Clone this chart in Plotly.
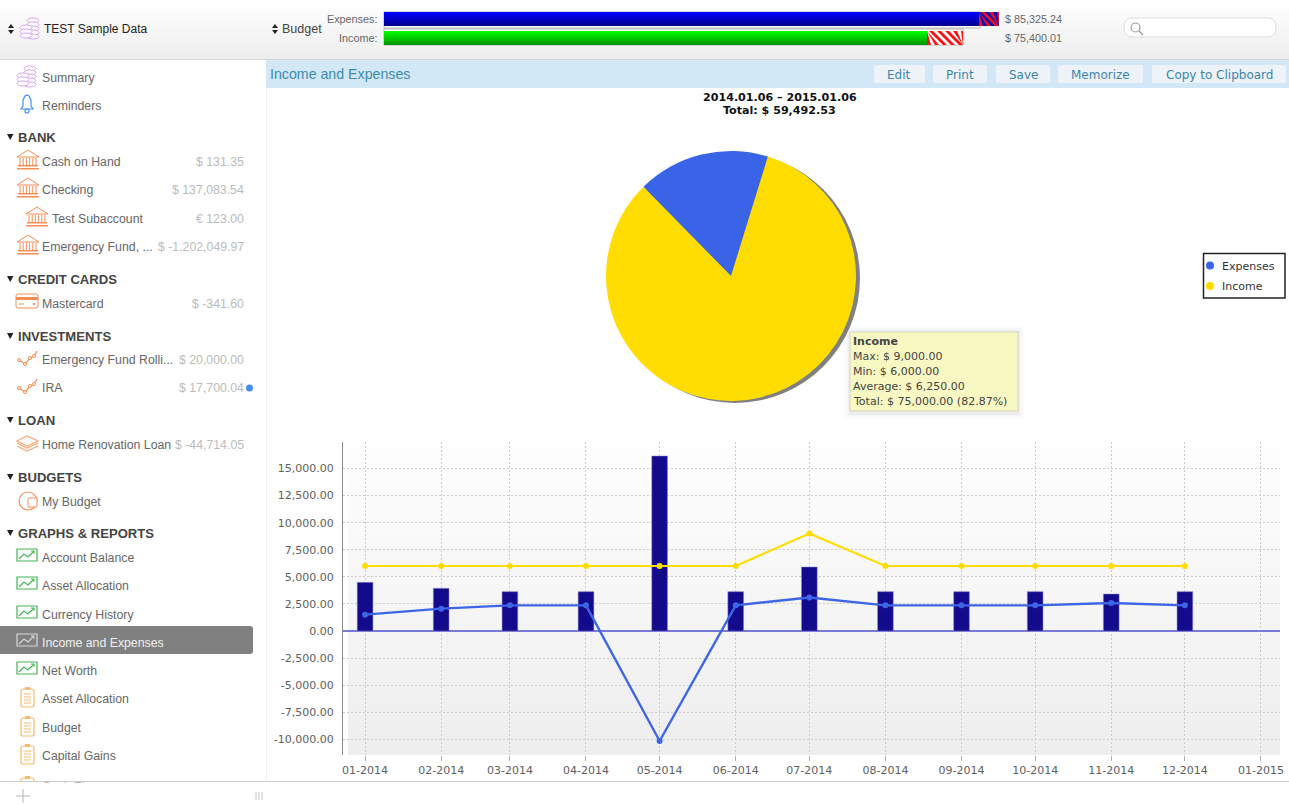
import plotly.express as px

WIDTH = 1289
HEIGHT = 805
SANS = "Liberation Sans"
GRANDE = "DejaVu Sans"

shapes = []
notes = []


def X(v):
    return v / WIDTH


def Y(v):
    return 1 - v / HEIGHT


def box(x0, y0, x1, y1, fill, line=None, width=0, layer="above"):
    shapes.append(dict(type="rect", xref="paper", yref="paper",
                       x0=X(x0), x1=X(x1), y0=Y(y0), y1=Y(y1),
                       fillcolor=fill, layer=layer,
                       line=dict(color=line or fill, width=width)))


def ring(x0, y0, x1, y1, line, width=1, fill="rgba(0,0,0,0)"):
    shapes.append(dict(type="circle", xref="paper", yref="paper",
                       x0=X(x0), x1=X(x1), y0=Y(y0), y1=Y(y1),
                       fillcolor=fill, layer="above",
                       line=dict(color=line, width=width)))


def poly(pts, line, width=1, fill="rgba(0,0,0,0)", closed=False):
    path = "M" + "L".join(f"{X(a)},{Y(b)}" for a, b in pts)
    if closed:
        path += "Z"
    shapes.append(dict(type="path", xref="paper", yref="paper", path=path,
                       fillcolor=fill, layer="above",
                       line=dict(color=line, width=width)))


def rounded(x0, y0, x1, y1, r, fill, line=None, width=0, square_left=False):
    rl = 0 if square_left else r
    path = (f"M{X(x0 + rl)},{Y(y0)}L{X(x1 - r)},{Y(y0)}"
            f"Q{X(x1)},{Y(y0)} {X(x1)},{Y(y0 + r)}L{X(x1)},{Y(y1 - r)}"
            f"Q{X(x1)},{Y(y1)} {X(x1 - r)},{Y(y1)}L{X(x0 + rl)},{Y(y1)}"
            f"Q{X(x0)},{Y(y1)} {X(x0)},{Y(y1 - rl)}L{X(x0)},{Y(y0 + rl)}"
            f"Q{X(x0)},{Y(y0)} {X(x0 + rl)},{Y(y0)}Z")
    shapes.append(dict(type="path", xref="paper", yref="paper", path=path,
                       fillcolor=fill, layer="above",
                       line=dict(color=line or fill, width=width)))


def label(x, y, text, size=12.3, color="#666666", family=SANS, anchor="left", bold=False):
    if bold:
        text = "<b>" + text + "</b>"
    notes.append(dict(xref="paper", yref="paper", x=X(x), y=Y(y), text=text,
                      showarrow=False, xanchor=anchor, yanchor="middle",
                      borderpad=0, borderwidth=0,
                      font=dict(family=family, size=size, color=color)))


def gradient(x0, y0, x1, y1, top, bottom, layer="above", steps=24):
    for i in range(steps):
        shade = [round(a + (b - a) * i / (steps - 1)) for a, b in zip(top, bottom)]
        end = min(y0 + (y1 - y0) * (i + 1) / steps + 1, y1)  # overlap hides the seams
        box(x0, y0 + (y1 - y0) * i / steps, x1, end, "rgb({},{},{})".format(*shade), layer=layer)


def stripes(x0, y0, x1, y1, color):
    h = y1 - y0
    x = x0 - h
    while x < x1:
        pts = [(x, y0), (x + 4, y0), (x + 4 + h, y1), (x + h, y1)]
        pts = [(min(max(a, x0), x1), b) for a, b in pts]
        poly(pts, color, 0, fill=color, closed=True)
        x += 8


def coins(x, y):
    c = "#d9a3f3"
    for i in range(5):
        ring(x + 7, y - 10 + i * 4, x + 19, y - 5 + i * 4, c, 1, "white")
    for i in range(3):
        ring(x, y - 3 + i * 4, x + 12, y + 2 + i * 4, c, 1, "white")


def bank(x, y):
    c = "#f68d54"
    poly([(x, y - 4), (x + 11, y - 11), (x + 22, y - 4)], c, 1, closed=True)
    for i in range(6):
        poly([(x + 3 + i * 3.2, y - 3), (x + 3 + i * 3.2, y + 4)], c, 1)
    box(x + 1, y + 4, x + 21, y + 5.5, c)
    box(x, y + 7, x + 22, y + 8.5, c)


def card(x, y):
    c = "#f68d54"
    rounded(x, y - 9, x + 22, y + 5, 2, "white", c, 1)
    box(x, y - 6, x + 22, y - 3, c)
    poly([(x + 3, y + 1), (x + 8, y + 1)], c, 1)
    box(x + 17, y, x + 19, y + 2, c)


def trend(x, y):
    c = "#f68d54"
    pts = [(x + 2, y + 1), (x + 8, y + 5), (x + 13, y - 1), (x + 17, y - 3), (x + 20, y - 8)]
    poly(pts, c, 1.2)
    for a, b in pts[:4]:
        ring(a - 1.5, b - 1.5, a + 1.5, b + 1.5, c, 1, "white")


def layers(x, y):
    c = "#f9a878"
    for dy in (5, 2):
        poly([(x, y + dy - 3), (x + 10, y + dy + 2), (x + 21, y + dy - 3)], c, 1.2)
    poly([(x, y - 3), (x + 10, y - 8), (x + 21, y - 3), (x + 10, y + 2)], c, 1.2, "white", True)


def pie_icon(x, y):
    c = "#f68d54"
    ring(x, y - 9, x + 18, y + 9, c, 1.2, "white")
    rounded(x + 9, y - 3, x + 18, y + 6, 1, "white", c, 1)


def graph(x, y, c="#45b455"):
    box(x, y - 8, x + 20, y + 4, "rgba(0,0,0,0)", c, 1.2)
    poly([(x + 2, y + 2), (x + 7, y - 3), (x + 11, y), (x + 17, y - 6)], c, 1.2)
    poly([(x + 14, y - 6), (x + 17, y - 6), (x + 17, y - 3)], c, 1)


def clipboard(x, y):
    c = "#f9bb6a"
    rounded(x + 4, y - 9, x + 17, y + 9, 2, "white", c, 1.2)
    box(x + 8, y - 11, x + 13, y - 8, c)
    for dy in (-4, -1, 2, 5):
        poly([(x + 7, y + dy), (x + 14, y + dy)], c, 1)


def bell(x, y):
    c = "#3f8ff0"
    pts = [(x + 5, y + 5), (x + 7, y + 2), (x + 7, y - 4), (x + 9, y - 8), (x + 11, y - 9),
           (x + 13, y - 8), (x + 15, y - 4), (x + 15, y + 2), (x + 17, y + 5)]
    poly(pts, c, 1.2, closed=True)
    ring(x + 9, y + 5, x + 13, y + 9, c, 1.2)


def updown(x, y):
    poly([(x - 3, y - 1), (x, y - 5), (x + 3, y - 1)], "#222222", 0, "#222222", True)
    poly([(x - 3, y + 1), (x, y + 5), (x + 3, y + 1)], "#222222", 0, "#222222", True)


def sidebar():
    label(42, 77.5, "Summary")
    coins(17, 76)
    label(42, 105.5, "Reminders")
    bell(16, 104)

    sections = [(137, "BANK"), (279, "CREDIT CARDS"), (336, "INVESTMENTS"), (420, "LOAN"),
                (477, "BUDGETS"), (533, "GRAPHS &amp; REPORTS")]
    for y, name in sections:
        poly([(7, y - 3), (13.5, y - 3), (10.2, y + 3)], "#222222", 0, "#222222", True)
        label(18, y, name, size=13.1, color="#444444", bold=True)

    rows = [(161, 42, "Cash on Hand", "$ 131.35", bank, 17),
            (189, 42, "Checking", "$ 137,083.54", bank, 17),
            (218, 52, "Test Subaccount", "€ 123.00", bank, 26),
            (246, 42, "Emergency Fund, ...", "$ -1,202,049.97", bank, 17),
            (303, 42, "Mastercard", "$ -341.60", card, 16),
            (359, 42, "Emergency Fund Rolli...", "$ 20,000.00", trend, 17),
            (387, 42, "IRA", "$ 17,700.04", trend, 17),
            (444, 42, "Home Renovation Loan", "$ -44,714.05", layers, 17),
            (501, 42, "My Budget", "", pie_icon, 19),
            (557, 42, "Account Balance", "", graph, 17),
            (585, 42, "Asset Allocation", "", graph, 17),
            (614, 42, "Currency History", "", graph, 17),
            (670, 42, "Net Worth", "", graph, 17),
            (698, 42, "Asset Allocation", "", clipboard, 17),
            (727, 42, "Budget", "", clipboard, 17),
            (755, 42, "Capital Gains", "", clipboard, 17)]
    for y, x, name, amount, icon, ix in rows:
        icon(ix, y)
        label(x, y + 0.7, name)
        if amount:
            label(243.5, y + 0.7, amount, color="#bbbbbb", anchor="right")
    ring(246, 384.5, 253, 391.5, "#3f8ff0", 0, "#3f8ff0")

    rounded(0, 626, 253, 654, 3, "#808080", square_left=True)
    graph(17, 642, "#d5d5d5")
    label(42, 642.7, "Income and Expenses", color="#f0f0f0")

    # only the top of the last row shows above the bottom bar
    clipboard(17, 787)
    label(42, 787, "Cash Flow")
    notes.append(dict(xref="paper", yref="paper", x=X(40), y=Y(782), text=" ", showarrow=False,
                      xanchor="left", yanchor="top", width=110, height=18, bgcolor="white"))


def toolbar():
    gradient(0, 0, WIDTH, 59, (255, 255, 255), (238, 238, 238))
    box(0, 59, WIDTH, 60, "#d4d4d4")
    updown(11, 29)
    coins(20, 28)
    label(44, 29, "TEST Sample Data", size=12, color="#222222")
    updown(275, 29)
    label(282, 29, "Budget", size=12.5, color="#444444")
    label(377, 19, "Expenses:", size=10.8, anchor="right")
    label(377, 38, "Income:", size=10.8, anchor="right")

    box(384, 12, 980, 28, "#ffffff", "#b5b5b5", 1)
    box(384, 29, 963, 45, "#ffffff", "#b5b5b5", 1)
    gradient(384, 12, 979, 26, (0, 0, 255), (0, 0, 140))
    box(979, 12, 999, 26, "#1010b0")
    stripes(979, 12, 999, 26, "#e01030")
    gradient(384, 31, 927, 45, (0, 255, 0), (0, 150, 0))
    box(927, 31, 963, 45, "#ffffff")
    stripes(927, 31, 963, 45, "#ff1010")
    label(1005, 19, "$ 85,325.24", size=10.8)
    label(1005, 38, "$ 75,400.01", size=10.8)

    rounded(1124, 18, 1276, 37, 9, "#ffffff", "#dddddd", 1)
    ring(1131, 23, 1140, 32, "#999999", 1.2)
    poly([(1139, 31), (1143, 35)], "#999999", 1.2)


def header():
    box(266, 60, WIDTH, 88, "#d2e8f7")
    label(270, 74, "Income and Expenses", size=14.2, color="#3d8bb3")
    buttons = [(874, 925, "Edit"), (933, 987, "Print"), (996, 1050, "Save"),
               (1058, 1143, "Memorize"), (1152, 1286, "Copy to Clipboard")]
    for x0, x1, name in buttons:
        rounded(x0, 65, x1, 83, 2, "#eef3f9")
        label((x0 + x1) / 2, 75.3, name, size=12, color="#3d85aa", family=GRANDE, anchor="center")


def tooltip():
    for grow, alpha in ((6, 0.012), (4, 0.018), (2, 0.03)):
        box(850 - grow, 332 - grow, 1018 + grow, 411 + grow + 2, f"rgba(0,0,0,{alpha})")
    box(850, 332, 1018, 411, "#f8f8c2", "#d4d4c0", 1)
    lines = ["<b>Income</b>", "Max: $ 9,000.00", "Min: $ 6,000.00", "Average: $ 6,250.00",
             "Total: $ 75,000.00 (82.87%)"]
    for i, line in enumerate(lines):
        label(853, 341.5 + i * 15, line, size=11, color="#444444", family=GRANDE)


def legend():
    box(1203.5, 253.5, 1285, 298, "#ffffff", "#222222", 1.5)
    ring(1206, 261.5, 1214, 269.5, "#3a64e8", 0, "#3a64e8")
    ring(1206, 282, 1214, 290, "#ffdd00", 0, "#ffdd00")
    label(1222, 266, "Expenses", size=11, color="#333333", family=GRANDE)
    label(1222, 286, "Income", size=11, color="#333333", family=GRANDE)


def save_as_html():
    months = ["2014-01-01", "2014-02-01", "2014-03-01", "2014-04-01", "2014-05-01", "2014-06-01",
              "2014-07-01", "2014-08-01", "2014-09-01", "2014-10-01", "2014-11-01", "2014-12-01"]
    outgoing = [4492, 3938, 3630, 3630, 16154, 3630, 5908, 3630, 3630, 3630, 3415, 3630]
    income = [6000, 6000, 6000, 6000, 6000, 6000, 9000, 6000, 6000, 6000, 6000, 6000]
    net = [1508, 2062, 2370, 2370, -10154, 2370, 3092, 2370, 2370, 2370, 2585, 2370]

    fig = px.bar(x=months,
                 y=outgoing,
                 color_discrete_sequence=["#130b8c"],
                 width=WIDTH,
                 height=HEIGHT)
    fig.update_traces(width=6.4 * 86400000, marker_line_width=0.5, marker_line_color="#8a86d0")
    fig.add_scatter(x=months, y=net, mode="lines+markers",
                    line=dict(color="#3d66e6", width=2.4), marker=dict(color="#3d66e6", size=6))
    fig.add_scatter(x=months, y=income, mode="lines+markers",
                    line=dict(color="#ffdd00", width=2.2), marker=dict(color="#ffdd00", size=6))

    # shadow first, the real slices go over it
    fig.add_pie(values=[1], marker=dict(colors=["#808080"], line_width=0), textinfo="none",
                domain=dict(x=[X(610), X(860)], y=[Y(403), Y(153)]), sort=False)
    fig.add_pie(labels=["Expenses", "Income"], values=[15507.47, 75000],
                marker=dict(colors=["#3a64e8", "#ffdd00"], line_width=0), textinfo="none",
                domain=dict(x=[X(606), X(856)], y=[Y(401), Y(151)]),
                sort=False, direction="clockwise", rotation=-44.5)

    gradient(348, 442, 1280, 755, (254, 254, 254), (238, 238, 238), layer="below", steps=30)
    toolbar()
    box(266, 60, 267, 781, "#eeeeee")
    header()
    sidebar()
    box(0, 781, WIDTH, 805, "#ffffff")
    box(0, 781, WIDTH, 782, "#cccccc")
    poly([(16, 796), (30, 796)], "#b5b5b5", 1)
    poly([(23, 789), (23, 803)], "#b5b5b5", 1)
    for x in (256, 259, 262):
        poly([(x, 792), (x, 800)], "#c5c5c5", 1)
    tooltip()
    legend()
    label(779.5, 97.5, "2014.01.06 – 2015.01.06", size=11.1, color="#111111", family=GRANDE, anchor="center", bold=True)
    label(779.5, 110.5, "Total: $ 59,492.53", size=11.1, color="#111111", family=GRANDE, anchor="center", bold=True)

    ticks = [-10000, -7500, -5000, -2500, 0, 2500, 5000, 7500, 10000, 12500, 15000]
    tick_text = ["-10,000.00", "-7,500.00", "-5,000.00", "-2,500.00", "0.00", "2,500.00",
                 "5,000.00", "7,500.00", "10,000.00", "12,500.00", "15,000.00"]
    fig.update_xaxes(title=None, domain=[X(343), X(1280)], type="date", automargin=False,
                     range=["2013-12-23", "2015-01-08 18:00"],
                     dtick="M1", tick0="2014-01-01", tickformat="%m-%Y",
                     ticks="outside", ticklen=5, tickcolor="#b0b0b0",
                     tickfont=dict(family=GRANDE, size=11, color="#606060"),
                     showgrid=True, gridcolor="#cccccc", griddash="2px,2px", gridwidth=1,
                     showline=False, zeroline=False)
    fig.update_yaxes(title=None, domain=[Y(755), Y(442)], range=[-11446, 17446], automargin=False,
                     tickmode="array", tickvals=ticks, ticktext=tick_text,
                     ticks="", ticklabelstandoff=6,
                     tickfont=dict(family=GRANDE, size=11, color="#606060"),
                     showgrid=True, gridcolor="#cccccc", griddash="2px,2px", gridwidth=1,
                     showline=True, linecolor="#8a8a8a", linewidth=1,
                     zeroline=True, zerolinecolor="#7a78d8", zerolinewidth=1.5)
    fig.update_layout(margin=dict(l=0, r=0, t=0, b=0, pad=0),
                      paper_bgcolor="white",
                      plot_bgcolor="rgba(0,0,0,0)",
                      showlegend=False,
                      shapes=shapes,
                      annotations=notes)
    fig.write_html("out.html",
                   config=dict(displayModeBar=False),
                   post_script="document.body.style.margin='0';document.body.style.overflow='hidden';")


if __name__ == '__main__':
    save_as_html()
